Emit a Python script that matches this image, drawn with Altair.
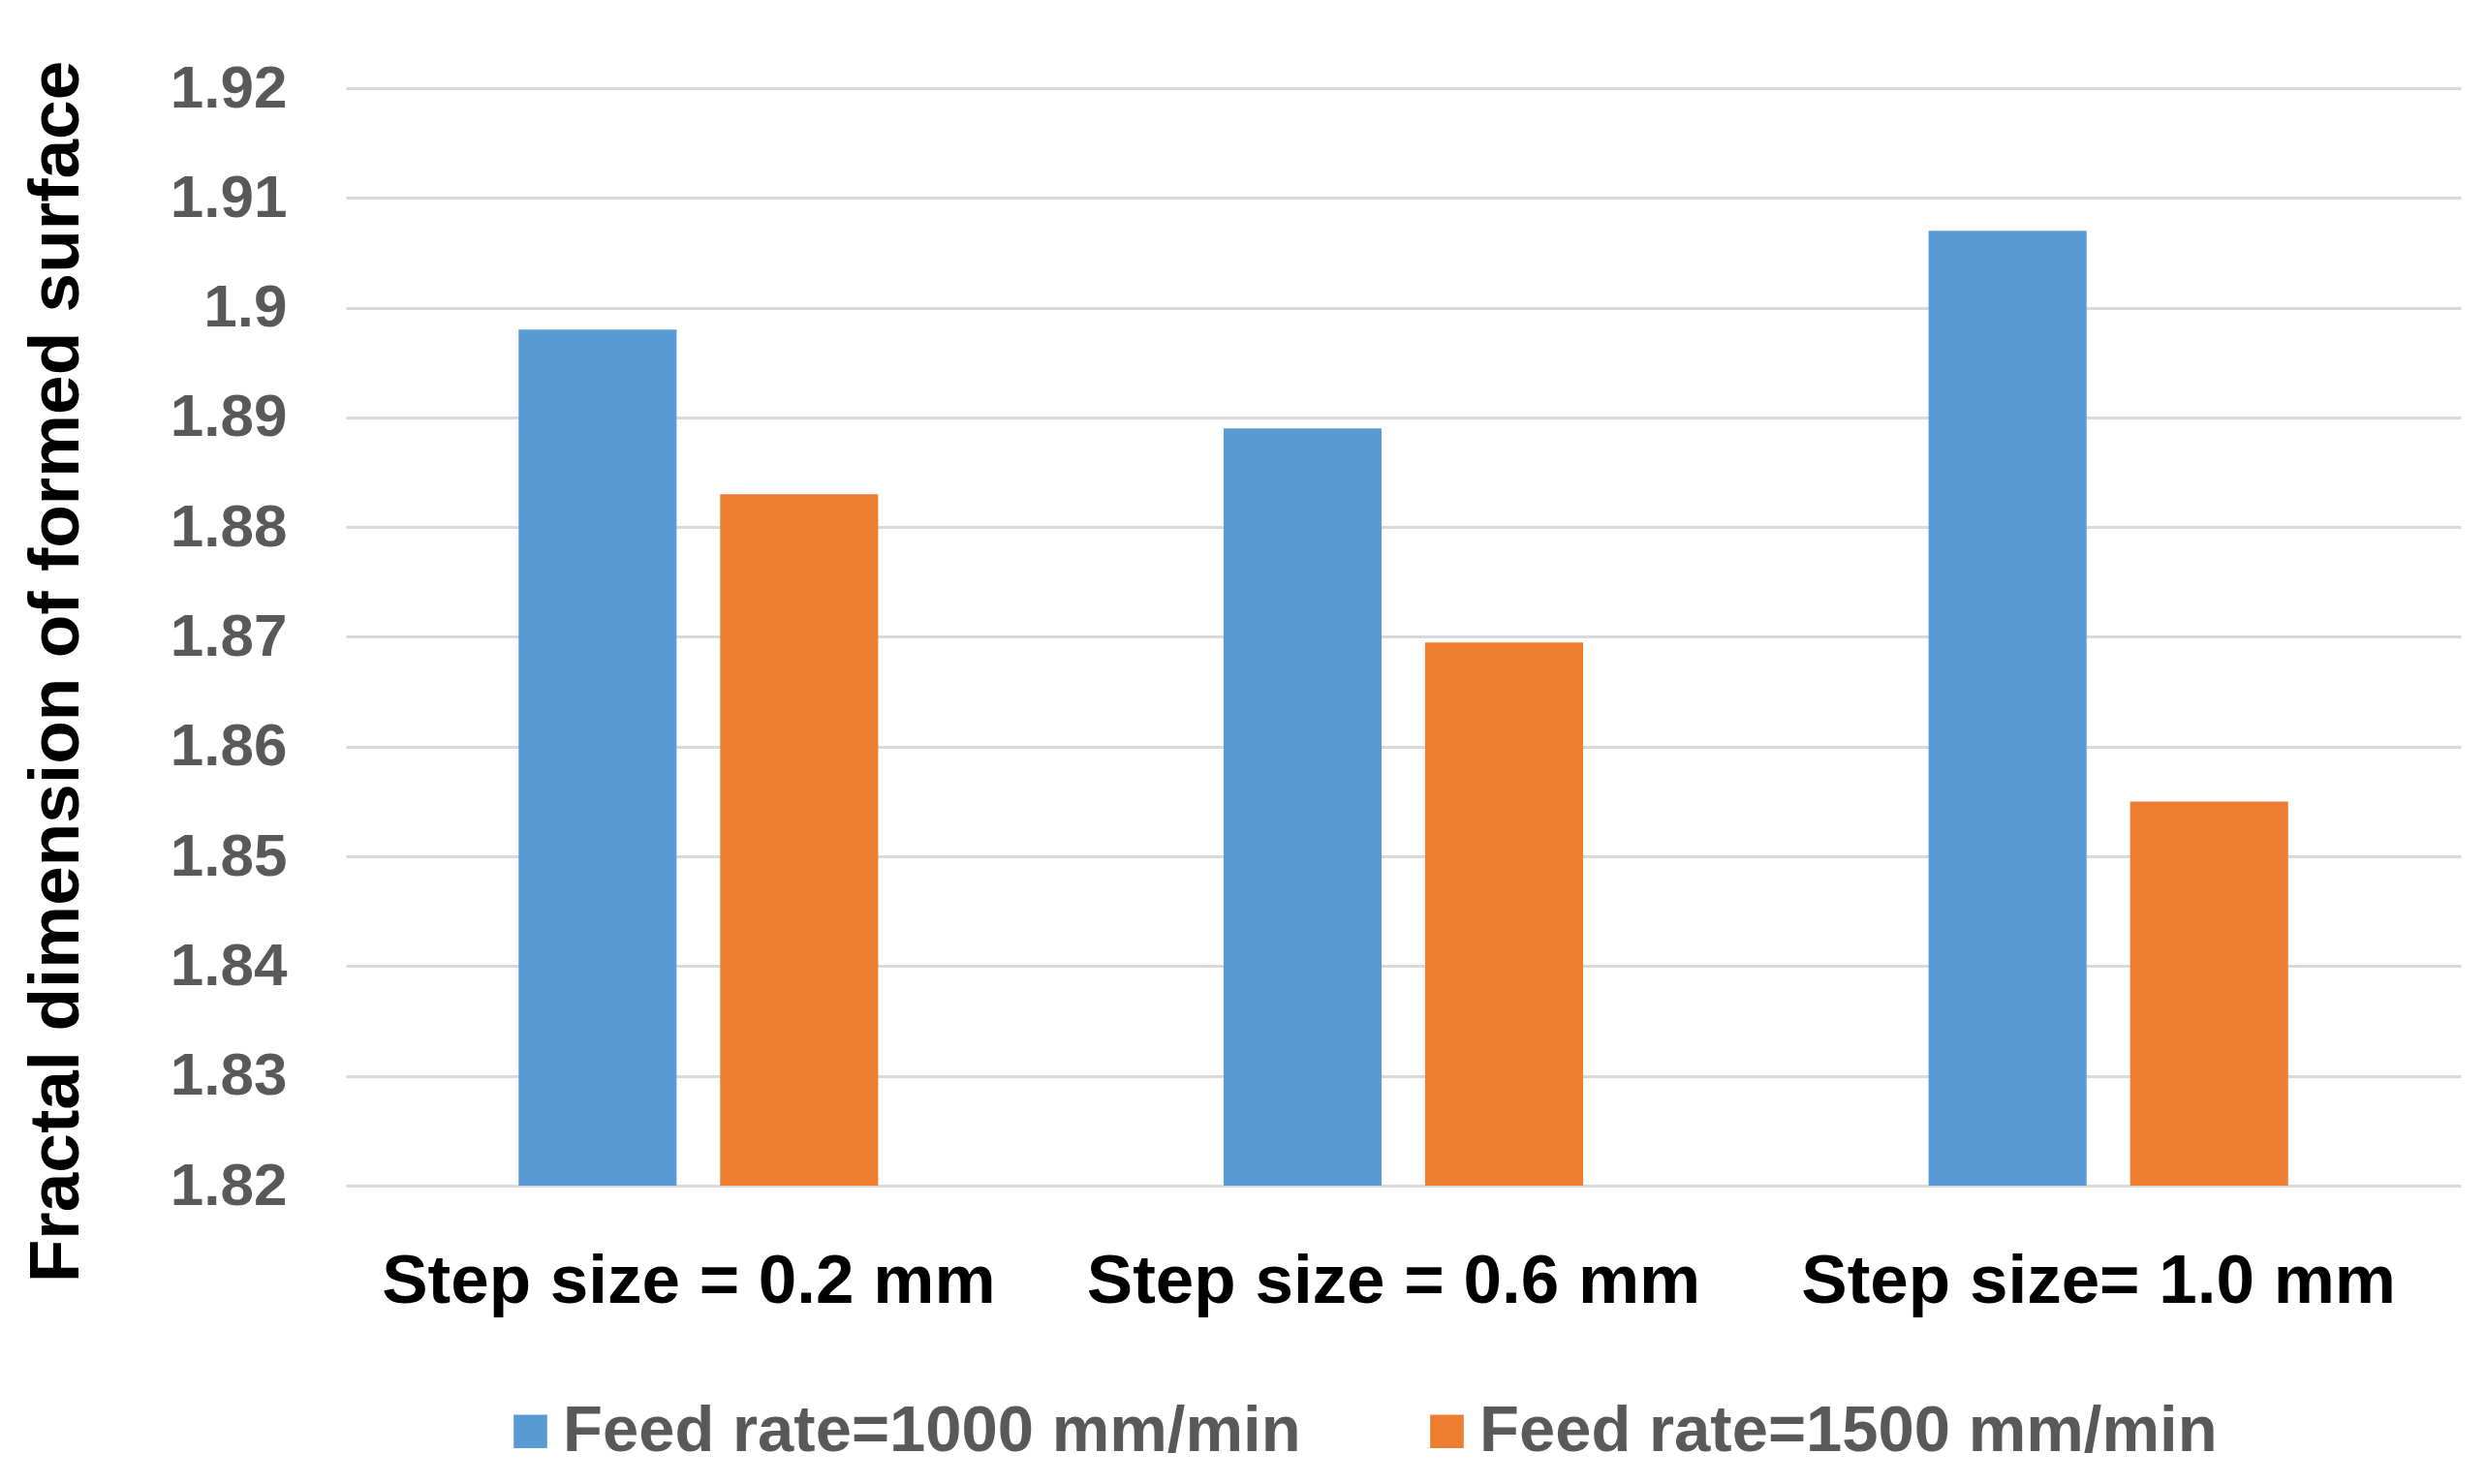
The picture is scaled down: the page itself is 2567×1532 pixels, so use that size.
import altair as alt
import pandas as pd

categories = ["Step size = 0.2 mm", "Step size = 0.6 mm", "Step size= 1.0 mm"]
series = ["Feed rate=1000 mm/min", "Feed rate=1500 mm/min"]
feed_1000 = [1.898, 1.889, 1.907]
feed_1500 = [1.883, 1.8695, 1.855]
y_ticks = [1.82, 1.83, 1.84, 1.85, 1.86, 1.87, 1.88, 1.89, 1.90, 1.91, 1.92]
colors = ["#5B9BD5", "#ED7D31"]

rows = []
for c, a, b in zip(categories, feed_1000, feed_1500):
    rows.append({"step": c, "feed": series[0], "value": a})
    rows.append({"step": c, "feed": series[1], "value": b})
df = pd.DataFrame(rows)

FONT = "Liberation Sans"

chart = alt.Chart(df).mark_bar(clip=True).encode(
    x=alt.X("step:N", sort=categories,
            scale=alt.Scale(paddingInner=0.49, paddingOuter=0.245),
            axis=alt.Axis(title=None, labelAngle=0, labelFont=FONT, labelFontWeight="bold",
                          labelFontSize=71, labelColor="#000000", labelPadding=64,
                          labelOffset=-10, labelLimit=3000, ticks=False, domain=False,
                          grid=False)),
    xOffset=alt.XOffset("feed:N", sort=series,
                        scale=alt.Scale(paddingInner=0.216, paddingOuter=0)),
    y=alt.Y("value:Q",
            scale=alt.Scale(domain=[y_ticks[0], y_ticks[-1]], nice=False, zero=False),
            axis=alt.Axis(title="Fractal dimension of formed surface", values=y_ticks,
                          format=".2~f", labelFont=FONT, labelFontWeight="bold",
                          labelFontSize=62, labelColor="#595959", labelPadding=61,
                          ticks=False, domain=False, grid=True, gridColor="#d9d9d9",
                          gridWidth=3, titleFont=FONT, titleFontWeight="bold",
                          titleFontSize=73, titleColor="#000000", titleAngle=270,
                          titleAlign="center", titleBaseline="alphabetic",
                          titleX=-277, titleY=602)),
    color=alt.Color("feed:N", sort=series,
                    scale=alt.Scale(domain=series, range=colors),
                    legend=alt.Legend(title=None, orient="none", legendX=157, legendY=1353,
                                      direction="horizontal", columns=2,
                                      symbolType="square", symbolSize=1200,
                                      symbolStrokeWidth=0, labelFont=FONT,
                                      labelFontWeight="bold", labelFontSize=67,
                                      labelColor="#595959", labelOffset=0,
                                      columnPadding=117, padding=0,
                                      labelLimit=2000)),
).properties(
    width=2183, height=1133,
    autosize=alt.AutoSizeParams(type="none"),
    padding={"left": 349, "top": 83, "right": 19, "bottom": 298},
).configure(background="white").configure_view(stroke=None, strokeWidth=0)

chart.save("out.html", embed_options={"renderer": "svg", "actions": False})
